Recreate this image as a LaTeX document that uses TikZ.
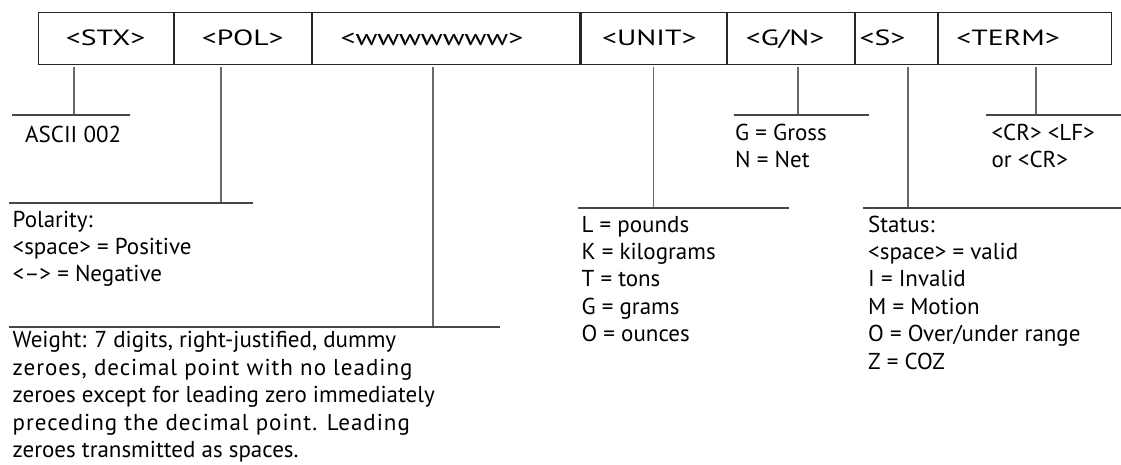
\documentclass[tikz,border=0pt]{standalone}
\usepackage{fontspec}
\setmainfont{PT Sans}
\newfontfamily\widesans[FakeStretch=1.35]{PT Sans}
\usetikzlibrary{positioning}
\definecolor{rulegray}{RGB}{70,70,70}
\definecolor{tickgray}{RGB}{105,105,105}
\newcommand{\fieldfont}{\widesans\fontsize{22}{26}\selectfont}
\newcommand{\notefont}{\fontsize{23}{27.4}\selectfont}
\newcommand{\tracked}[1]{{\addfontfeature{LetterSpace=4.3}#1}}
\tikzset{
  field/.style={draw=black!85,line width=1.2pt,inner sep=0pt,minimum height=52.5pt,text height=15pt,text depth=0pt,anchor=north west,align=left,font=\fieldfont},
  lead/.style={line width=1.3pt,tickgray,shorten <=1.5pt},
  bar/.style={line width=1.2pt,rulegray},
  note/.style={anchor=base west,align=left,inner sep=0pt,font=\notefont}
}
\begin{document}
\begin{tikzpicture}[x=1pt,y=-1pt]
      \useasboundingbox (0,0) rectangle (1121,464);
      \node[field,text width=135pt,align=center] (stx) at (37.5,11.5) {<STX>};
      \node[field,text width=137pt,align=center,right=0pt of stx] (pol) {<POL>};
      \node[field,text width=267.4pt,right=0pt of pol] (wgt) {\hspace*{28pt}<wwwwwww>};
      \node[field,text width=145.5pt,right=0pt of wgt] (unit) {\hspace*{21pt}<UNIT>};
      \node[field,text width=126.5pt,right=0pt of unit] (gn) {\hspace*{18pt}<G/N>};
      \node[field,text width=81.7pt,right=0pt of gn] (stat) {\hspace*{4pt}<S>};
      \node[field,text width=172.9pt,right=0pt of stat] (term) {\hspace*{18pt}<TERM>};
      \coordinate (stxbar) at (74,115); \coordinate (polbar) at (221,203); \coordinate (wgtbar) at (433,327);
      \coordinate (unitbar) at (653.6,208); \coordinate (gnbar) at (798,115); \coordinate (statbar) at (908,208); \coordinate (termbar) at (1036,115);
      \draw[lead] (stxbar |- stx.south) -- (stxbar); \draw[bar] (12,115) -- (130,115);
      \draw[lead] (polbar |- pol.south) -- (polbar); \draw[bar] (9,203) -- (253,203);
      \draw[lead] (wgtbar |- wgt.south) -- (wgtbar); \draw[bar] (9,327) -- (500,327);
      \draw[lead] (unitbar |- unit.south) -- (unitbar); \draw[bar] (578,208) -- (789,208);
      \draw[lead] (gnbar |- gn.south) -- (gnbar); \draw[bar] (734,115) -- (869,115);
      \draw[lead] (statbar |- stat.south) -- (statbar); \draw[bar] (863,208) -- (1121,208);
      \draw[lead] (termbar |- term.south) -- (termbar); \draw[bar] (986,115) -- (1121,115);
      \node[note] (ascii) at (25,142) {ASCII 002};
      \node[note] (polnote) at (12.5,281.8) {Polarity:\\<space> = Positive\\<–> = Negative};
      \node[note] (wgtnote) at (12.5,457.5) {Weight: 7 digits, right-justified, dummy\\\tracked{zeroes, decimal point with no leading}\\zeroes except for leading zero immediately\\\tracked{preceding the decimal point. Leading}\\zeroes transmitted as spaces.};
      \node[note] (unitnote) at (581.4,341.6) {L = pounds\\K = kilograms\\T = tons\\G = grams\\O = ounces};
      \node[note] (gnnote) at (735,167.4) {G = Gross\\N = Net};
      \node[note] (statnote) at (868,369) {Status:\\<space> = valid\\I = Invalid\\M = Motion\\O = Over/under range\\Z = COZ};
      \node[note] (termnote) at (991.4,167.4) {<CR> <LF>\\or <CR>};
    \end{tikzpicture}
\end{document}
